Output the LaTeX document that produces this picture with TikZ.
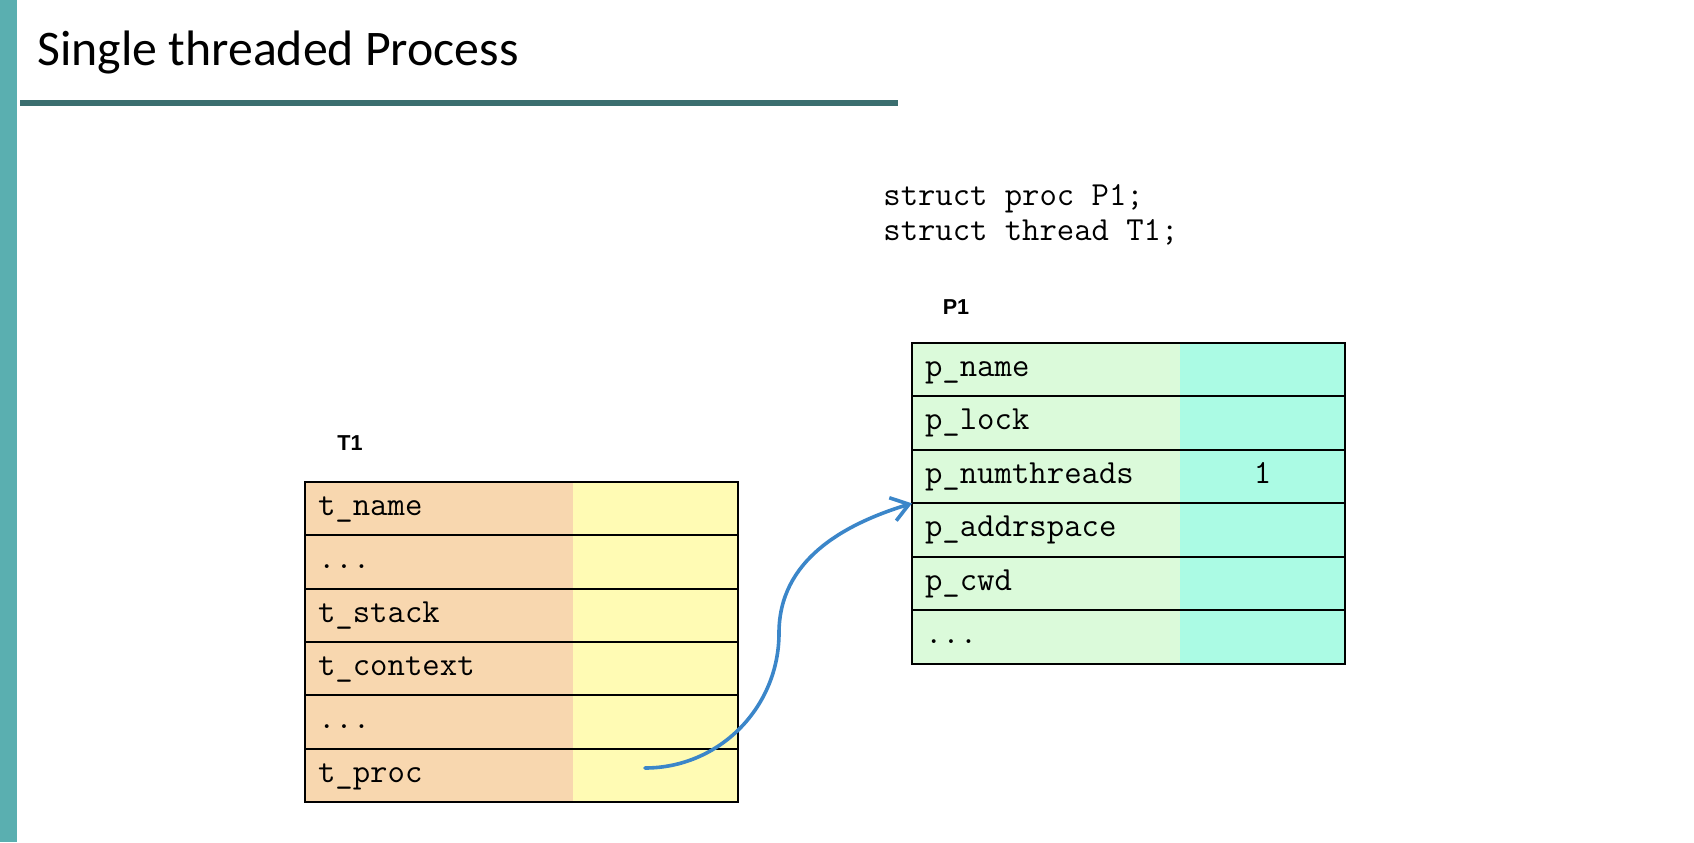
\documentclass[tikz,border=0pt]{standalone}
\usepackage{fontspec}
\setmainfont{Carlito}
\newfontfamily\labelfont{Liberation Sans}
\usetikzlibrary{arrows.meta,positioning}

\definecolor{barteal}{HTML}{5AAFB0}
\definecolor{ruleteal}{HTML}{3B6E6F}
\definecolor{tfieldfill}{HTML}{F8D7AF}
\definecolor{tvaluefill}{HTML}{FFFBB4}
\definecolor{pfieldfill}{HTML}{DBFADA}
\definecolor{pvaluefill}{HTML}{ABFBE4}
\definecolor{linkblue}{HTML}{3B86C9}

\newcommand{\moredots}{...}

\tikzset{
  cell/.style={minimum height=26.67pt, inner ysep=0pt, outer sep=0pt, text height=9pt, text depth=2.2pt,
    font=\ttfamily\fontsize{16.9pt}{19pt}\selectfont},
  fieldcell/.style={cell, text width=121pt, inner xsep=6.5pt, align=left, anchor=north west},
  valuecell/.style={cell, minimum width=82.5pt, inner xsep=0pt, align=center},
  rowline/.style={draw=black, line width=0.9pt},
  structlabel/.style={font=\labelfont\bfseries\fontsize{10.8pt}{12pt}\selectfont},
  decl/.style={anchor=base west, inner sep=0pt, font=\ttfamily\fontsize{16.85pt}{19pt}\selectfont}
}

\begin{document}
\begin{tikzpicture}[x=0.5pt,y=-0.5pt]
  \useasboundingbox (0,0) rectangle (1694,842);

  % Slide frame
  \fill[barteal] (0,0) rectangle (17,842);
  \fill[ruleteal] (20,100) rectangle (898,106);
  \node[anchor=base west, inner sep=0pt, font=\fontsize{24.9pt}{29pt}\selectfont] (title) at (37,65) {Single threaded Process};

  % Declarations
  \node[decl] (declproc) at (883,205) {struct proc P1;};
  \node[decl] (declthread) at (883,240) {struct thread T1;};

  % Thread T1
  \node[structlabel] (t1label) at (350,443) {T1};
  \foreach \fld [count=\i] in {t\_name, \moredots, t\_stack, t\_context, \moredots, t\_proc} {
    \node[fieldcell, fill=tfieldfill] (t1f\i) at (305,{482+53.33*(\i-1)}) {\fld};
    \node[valuecell, fill=tvaluefill, right=0pt of t1f\i] (t1v\i) {};
    \draw[rowline] (t1f\i.north west) rectangle (t1v\i.south east);
  }

  % Process P1
  \node[structlabel] (p1label) at (956,307) {P1};
  \foreach \fld/\val [count=\i] in {p\_name/, p\_lock/, p\_numthreads/1, p\_addrspace/, p\_cwd/, \moredots/} {
    \node[fieldcell, fill=pfieldfill] (p1f\i) at (912,{343+53.5*(\i-1)}) {\fld};
    \node[valuecell, fill=pvaluefill, right=0pt of p1f\i] (p1v\i) {\val};
    \draw[rowline] (p1f\i.north west) rectangle (p1v\i.south east);
  }

  % t_proc points to P1
  \coordinate (tproc) at (645,768);
  \coordinate (bend) at (779,633);
  \draw[linkblue, line width=1.8pt, line cap=round, -{Straight Barb[length=8.5pt,width=12pt,line width=1.8pt]}]
    (tproc) to[out=0,in=-90] (bend) to[out=90,in=197] (p1f3.south west);
\end{tikzpicture}
\end{document}
